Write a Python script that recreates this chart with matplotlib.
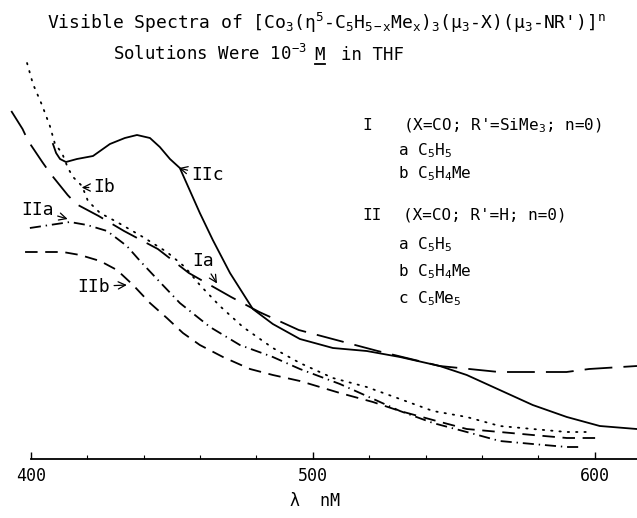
import matplotlib
matplotlib.use("Agg")
import matplotlib.pyplot as plt

plt.rcParams['font.family'] = 'DejaVu Sans Mono'
plt.rcParams['mathtext.fontset'] = 'custom'
plt.rcParams['mathtext.rm'] = 'DejaVu Sans Mono'
plt.rcParams['mathtext.it'] = 'DejaVu Sans Mono'
plt.rcParams['mathtext.bf'] = 'DejaVu Sans Mono:bold'
plt.rcParams['lines.scale_dashes'] = False

# spectra (wavelength nm, absorbance in arbitrary units)
Ia_nm = [393, 397, 399, 404, 407, 413, 416, 424, 433, 445, 456, 471, 481, 495, 507, 523, 545, 566, 576, 590, 598, 615]
Ia_A = [1.16, 1.10, 1.06, 0.99, 0.95, 0.88, 0.85, 0.81, 0.76, 0.70, 0.62, 0.54, 0.49, 0.43, 0.40, 0.36, 0.31, 0.29, 0.29, 0.29, 0.30, 0.31]

Ib_nm = [398.6, 400.7, 403.9, 406.7, 408.5, 411, 413.1, 414.9, 418.1, 420.2, 424.5, 430.5, 439.7, 448.2, 454.6, 459.9,
         467, 475.2, 485.8, 495.4, 507.1, 519.1, 530.9, 542.6, 554.6, 566.3, 578, 590.1, 597.2]
Ib_A = [1.32, 1.25, 1.18, 1.11, 1.05, 1.02, 0.97, 0.94, 0.91, 0.86, 0.82, 0.79, 0.74, 0.69, 0.64, 0.58,
        0.51, 0.44, 0.37, 0.32, 0.27, 0.24, 0.20, 0.16, 0.14, 0.11, 0.10, 0.09, 0.09]

IIa_nm = [399.6, 406.7, 413.8, 419.9, 427, 434, 438.7, 444.7, 452.8, 463.5, 474.1, 485.8, 495.4, 509.6, 519.1,
          530.9, 542.6, 554.6, 566.3, 578, 590.1, 595.7]
IIa_A = [0.77, 0.78, 0.79, 0.78, 0.76, 0.71, 0.66, 0.60, 0.52, 0.44, 0.38, 0.34, 0.30, 0.25, 0.21,
         0.16, 0.12, 0.09, 0.06, 0.05, 0.04, 0.04]

IIb_nm = [397.9, 404.3, 411.3, 417.4, 424.5, 430.5, 436.2, 442.2, 448.2, 453.9, 459.9, 468.1, 477.7, 485.8,
          495.4, 509.6, 521.3, 530.9, 542.6, 554.6, 566.3, 578, 590.1, 602.8]
IIb_A = [0.69, 0.69, 0.69, 0.68, 0.66, 0.63, 0.58, 0.52, 0.47, 0.42, 0.38, 0.34, 0.30, 0.28,
         0.26, 0.22, 0.19, 0.16, 0.13, 0.10, 0.09, 0.08, 0.07, 0.07]

IIc_nm = [407.8, 408.9, 410.3, 412.4, 416.3, 422, 428, 433.3, 437.6, 442.2, 445.7, 449.3, 452.8, 459.9, 464.5,
          470.6, 478.7, 485.8, 495.4, 507.1, 519.1, 530.9, 545, 554.6, 566.3, 578, 590.1, 601.8, 614.9]
IIc_A = [1.05, 1.02, 1.00, 0.99, 1.00, 1.01, 1.05, 1.07, 1.08, 1.07, 1.04, 1.00, 0.97, 0.82, 0.73,
         0.62, 0.50, 0.45, 0.40, 0.37, 0.36, 0.34, 0.31, 0.28, 0.23, 0.18, 0.14, 0.11, 0.10]

major_ticks = [400, 500, 600]
minor_ticks = [420, 440, 460, 480, 520, 540, 560, 580]

W, H = 637, 518
def fx(px):
    return px / W
def fy(py):
    return 1 - py / H

fig = plt.figure(figsize=(6.37, 5.18), dpi=100)
ax = fig.add_axes([0, 59 / H, 1, 459 / H])

lw = 1.3
ax.plot(Ia_nm, Ia_A, color='k', lw=lw, dashes=(20, 8))
ax.plot(Ib_nm, Ib_A, color='k', lw=lw, dashes=(1, 5), dash_capstyle='round')
ax.plot(IIa_nm, IIa_A, color='k', lw=lw, dashes=(8, 3.5, 1, 3.5))
ax.plot(IIb_nm, IIb_A, color='k', lw=lw, dashes=(9, 5.5))
ax.plot(IIc_nm, IIc_A, color='k', lw=lw)

ax.set_xlim(389, 615)
ax.set_ylim(0, 1.53)
for s in ['left', 'right', 'top']:
    ax.spines[s].set_visible(False)
ax.spines['bottom'].set_bounds(400, 615)
ax.spines['bottom'].set_linewidth(1.3)
ax.set_yticks([])
ax.set_xticks(major_ticks)
ax.set_xticks(minor_ticks, minor=True)
ax.tick_params(axis='x', which='major', direction='in', length=5, width=1, labelsize=12, pad=6)
ax.tick_params(axis='x', which='minor', direction='in', length=3, width=0.8)

fig.text(0.495, 0.032, "λ  nM", ha='center', va='center', fontsize=12)

# curve labels
arr = dict(arrowstyle='->', lw=0.9, color='k', shrinkA=1, shrinkB=0)
ax.annotate("IIc", xy=(452.5, 0.97), xytext=(457, 0.945), ha='left', va='center', fontsize=13, arrowprops=arr)
ax.annotate("Ib", xy=(418, 0.905), xytext=(422, 0.905), ha='left', va='center', fontsize=13, arrowprops=arr)
ax.annotate("IIa", xy=(413, 0.80), xytext=(408, 0.83), ha='right', va='center', fontsize=13, arrowprops=arr)
ax.annotate("Ia", xy=(466, 0.585), xytext=(461, 0.66), ha='center', va='center', fontsize=13, arrowprops=arr)
ax.annotate("IIb", xy=(434, 0.58), xytext=(428, 0.575), ha='right', va='center', fontsize=13, arrowprops=arr)

# title
fig.text(fx(327), fy(29), "Visible Spectra of [Co$_3$(η$^5$-C$_5$H$_{5-x}$Me$_x$)$_3$(μ$_3$-X)(μ$_3$-NR')]$^n$",
         ha='center', va='baseline', fontsize=13)
renderer = fig.canvas.get_renderer()
t1 = fig.text(fx(113), fy(60), "Solutions Were 10$^{-3}$", ha='left', va='baseline', fontsize=12.5)
bb = t1.get_window_extent(renderer)
t2 = fig.text((bb.x1 + 8) / W, fy(60), "M", ha='left', va='baseline', fontsize=12.5)
bb2 = t2.get_window_extent(renderer)
fig.add_artist(plt.Line2D([bb2.x0 / W, bb2.x1 / W], [fy(64), fy(64)], color='k', lw=1.3))
fig.text((bb2.x1 + 16) / W, fy(60), "in THF", ha='left', va='baseline', fontsize=12.5)

# key
fs = 11.5
fig.text(fx(362), fy(130), "I", fontsize=fs, va='baseline')
fig.text(fx(403), fy(130), "(X=CO; R'=SiMe$_3$; n=0)", fontsize=fs, va='baseline')
fig.text(fx(398), fy(155), "a C$_5$H$_5$", fontsize=fs, va='baseline')
fig.text(fx(398), fy(178), "b C$_5$H$_4$Me", fontsize=fs, va='baseline')
fig.text(fx(362), fy(220), "II", fontsize=fs, va='baseline')
fig.text(fx(403), fy(220), "(X=CO; R'=H; n=0)", fontsize=fs, va='baseline')
fig.text(fx(398), fy(249), "a C$_5$H$_5$", fontsize=fs, va='baseline')
fig.text(fx(398), fy(276), "b C$_5$H$_4$Me", fontsize=fs, va='baseline')
fig.text(fx(398), fy(303), "c C$_5$Me$_5$", fontsize=fs, va='baseline')

fig.savefig("out.png", dpi=100)
